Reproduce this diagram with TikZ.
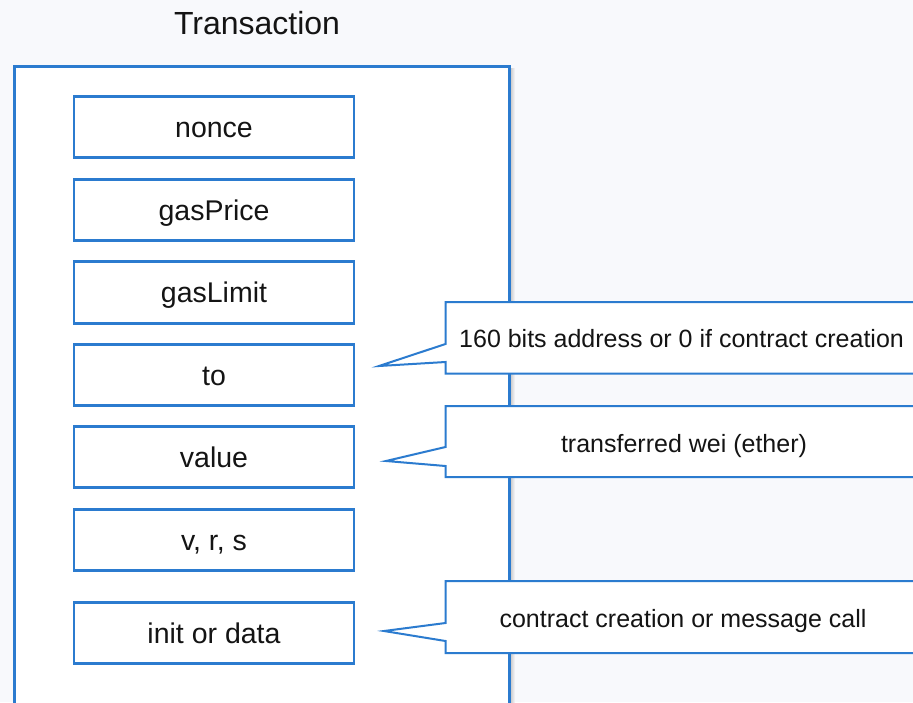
\documentclass[tikz,border=0pt]{standalone}
\usepackage{fontspec}
\setmainfont{Liberation Sans}
\definecolor{edge}{HTML}{2B7BCF}
\definecolor{paper}{HTML}{F8F9FC}
\definecolor{ink}{HTML}{141414}

\begin{document}
\begin{tikzpicture}[x=1pt,y=-1pt,
  field/.style={draw=edge, line width=2.8pt, fill=white,
    minimum width=280pt, minimum height=61.5pt, inner sep=0pt,
    text height=26pt, text depth=6pt, text=ink,
    font=\fontsize{28.5}{34}\selectfont},
  note/.style={text=ink, inner sep=0pt, font=\fontsize{25}{30}\selectfont},
  bubble/.style={draw=edge, line width=2pt, fill=white, line join=miter}]
  \useasboundingbox (0,0) rectangle (913,702);
  \clip (0,0) rectangle (913,702);
  \fill[paper] (0,0) rectangle (913,702);

  % soft shadow along the right side of the frame
  \shade[left color=black!25, right color=paper] (509.5,68) rectangle (515,702);

  % transaction frame and its title
  \node[draw=edge, line width=3.2pt, fill=white, anchor=north west,
        minimum width=495.5pt, minimum height=680pt, inner sep=0pt]
        (frame) at (12.5,65) {};
  \node[text=ink, inner sep=0pt, font=\fontsize{32}{38}\selectfont, anchor=base]
        (title) at (257,34) {Transaction};

  % fields
  \node[field] (nonce)    at (214,127)   {nonce};
  \node[field] (gasprice) at (214,210)   {gasPrice};
  \node[field] (gaslimit) at (214,292.5) {gasLimit};
  \node[field] (to)       at (214,375)   {to};
  \node[field] (value)    at (214,457)   {value};
  \node[field] (vrs)      at (214,540)   {v, r, s};
  \node[field] (data)     at (214,633)   {init or data};

  % callouts
  \coordinate (tipTo)    at (379,366);
  \coordinate (tipValue) at (386,461);
  \coordinate (tipData)  at (384,631);

  \draw[bubble] (445.5,302) -- (930,302) -- (930,373.5) -- (445.5,373.5)
     -- (445.5,362) -- (tipTo) -- (445.5,344) -- cycle;
  \draw[bubble] (445.5,406) -- (930,406) -- (930,477) -- (445.5,477)
     -- (445.5,466) -- (tipValue) -- (445.5,447) -- cycle;
  \draw[bubble] (445.5,581) -- (930,581) -- (930,653) -- (445.5,653)
     -- (445.5,641) -- (tipData) -- (445.5,623) -- cycle;

  \node[note, anchor=base west] (noteTo)    at (459,347)
        {160 bits address or 0 if contract creation};
  \node[note, anchor=base]      (noteValue) at (684,452)
        {transferred wei (ether)};
  \node[note, anchor=base]      (noteData)  at (683,627)
        {contract creation or message call};
\end{tikzpicture}
\end{document}
